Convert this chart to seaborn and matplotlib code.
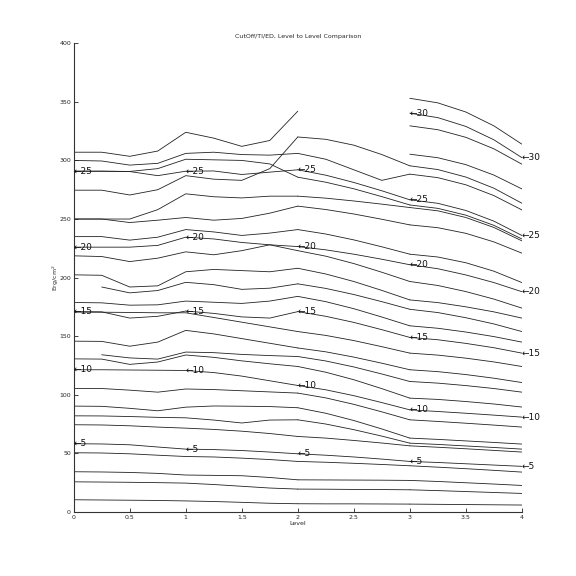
import numpy as np
import pandas as pd
import matplotlib
matplotlib.use("Agg")
import matplotlib.pyplot as plt
import seaborn as sns

nan = np.nan

# level positions for the three pieces of the plot
levels_a = [0, 0.25, 0.5, 0.75, 1.0, 1.25, 1.5, 1.75, 2.0]
levels_b = [2.0, 2.25, 2.5, 2.75, 3.0]
levels_c = [3.0, 3.25, 3.5, 3.75, 4.0]

# flux values (Erg/cm^2), one row per curve
flux_a = [
    [10.5, 10.3, 10.1, 9.9, 9.5, 9.0, 8.3, 7.5, 7.1],
    [25.8, 25.6, 25.4, 25.1, 24.7, 23.5, 22.0, 20.5, 19.6],
    [34.4, 34.2, 33.8, 33.0, 31.6, 31.3, 31.0, 29.5, 27.5],
    [50.6, 50.4, 49.7, 48.5, 47.4, 47.0, 46.0, 44.8, 43.2],
    [58.3, 58.1, 57.4, 55.5, 53.7, 53.3, 52.5, 51.2, 49.7],
    [74.5, 74.3, 73.6, 72.5, 71.6, 70.5, 69.0, 67.0, 64.5],
    [82.1, 82.0, 81.5, 80.8, 80.4, 78.5, 76.0, 78.5, 78.7],
    [90.4, 90.2, 88.5, 86.4, 89.5, 90.5, 90.3, 90.0, 89.0],
    [105.4, 105.4, 104.0, 102.3, 105.0, 104.5, 103.5, 102.5, 101.5],
    [121.4, 121.4, 121.2, 121.0, 120.8, 119.0, 116.0, 112.0, 108.0],
    [130.7, 130.5, 126.0, 128.0, 134.0, 132.0, 129.0, 126.5, 124.2],
    [nan, 134.2, 131.5, 130.5, 136.5, 136.0, 134.5, 133.5, 132.7],
    [145.8, 145.6, 141.5, 145.0, 155.0, 152.0, 148.0, 144.0, 140.0],
    [170.6, 170.5, 170.3, 170.0, 170.0, 166.0, 162.0, 158.0, 154.0],
    [171.0, 170.8, 165.5, 167.0, 171.5, 169.5, 166.5, 165.5, 171.0],
    [178.8, 178.5, 176.5, 176.8, 180.0, 179.0, 178.0, 180.0, 184.0],
    [nan, 192.0, 187.0, 189.0, 196.0, 194.0, 190.0, 191.0, 194.7],
    [202.4, 202.0, 192.0, 193.0, 205.0, 207.0, 206.0, 205.0, 208.0],
    [218.6, 218.0, 213.7, 216.6, 222.0, 219.5, 223.0, 228.0, 223.0],
    [226.0, 226.0, 226.0, 227.5, 234.5, 233.0, 230.0, 228.0, 226.5],
    [235.0, 235.0, 232.0, 234.5, 241.0, 239.0, 236.0, 238.0, 241.0],
    [250.0, 250.0, 247.0, 249.0, 251.3, 249.0, 250.5, 255.0, 261.0],
    [250.0, 250.0, 250.0, 258.0, 271.5, 269.0, 268.0, 269.5, 269.5],
    [274.6, 274.6, 270.5, 275.0, 287.0, 284.0, 283.0, 293.0, 320.0],
    [290.8, 290.8, 290.6, 293.0, 301.0, 300.5, 300.0, 297.0, 285.7],
    [290.8, 290.8, 290.5, 287.0, 290.8, 291.0, 288.0, 290.0, 292.0],
    [300.0, 299.5, 296.0, 297.5, 306.0, 307.0, 305.0, 304.5, 306.0],
    [307.0, 307.0, 303.5, 308.0, 324.0, 319.0, 312.0, 317.0, 342.0],
]

flux_b = [
    [7.1, 7.0, 7.0, 6.9, 6.8],
    [19.6, 19.5, 19.3, 19.2, 19.0],
    [27.5, 27.4, 27.3, 27.2, 27.0],
    [43.2, 42.5, 41.6, 40.6, 39.5],
    [49.7, 48.5, 47.0, 45.2, 43.2],
    [64.5, 63.1, 61.1, 58.9, 56.5],
    [78.7, 75.1, 70.3, 64.8, 58.8],
    [89.0, 84.3, 78.1, 70.9, 63.1],
    [101.5, 97.4, 91.9, 85.5, 78.7],
    [108.0, 104.3, 99.3, 93.4, 87.2],
    [124.2, 119.3, 112.9, 105.3, 97.2],
    [132.7, 128.9, 123.8, 117.8, 111.4],
    [140.0, 136.7, 132.2, 127.0, 121.4],
    [154.0, 150.7, 146.3, 141.1, 135.6],
    [171.0, 167.0, 161.8, 155.6, 149.0],
    [184.0, 179.5, 173.5, 166.4, 158.9],
    [194.7, 190.8, 185.6, 179.5, 173.0],
    [208.0, 203.1, 196.7, 189.1, 181.0],
    [223.0, 218.3, 212.0, 204.6, 196.7],
    [226.5, 223.7, 220.0, 215.7, 211.0],
    [241.0, 237.2, 232.2, 226.3, 220.0],
    [261.0, 258.1, 254.3, 249.8, 245.0],
    [269.5, 267.8, 265.4, 262.7, 259.8],
    [285.7, 281.4, 275.8, 269.1, 262.0],
    [292.0, 287.4, 281.2, 274.1, 266.4],
    [306.0, 301.0, 292.0, 283.0, 288.3],
    [320.0, 318.0, 313.0, 305.0, 295.4],
]

flux_c = [
    [6.8, 6.6, 6.4, 6.2, 6.0],
    [19.0, 18.3, 17.5, 16.7, 15.9],
    [27.0, 26.1, 25.0, 23.9, 22.7],
    [39.5, 38.3, 37.0, 35.6, 34.1],
    [43.2, 42.3, 41.2, 40.1, 39.0],
    [56.5, 55.3, 54.0, 52.6, 51.2],
    [58.8, 57.7, 56.4, 55.1, 53.7],
    [63.1, 62.0, 60.7, 59.4, 58.0],
    [78.7, 77.3, 75.8, 74.2, 72.5],
    [87.2, 85.8, 84.3, 82.7, 81.0],
    [97.2, 96.1, 94.3, 92.2, 89.6],
    [111.4, 110.0, 107.9, 105.4, 102.3],
    [121.4, 119.8, 117.3, 114.2, 110.5],
    [135.6, 133.9, 131.3, 128.1, 124.2],
    [149.0, 147.0, 143.9, 140.2, 135.6],
    [158.9, 156.8, 153.6, 149.7, 145.0],
    [173.0, 170.2, 165.8, 160.5, 154.0],
    [181.0, 178.7, 175.1, 170.8, 165.5],
    [196.7, 193.3, 188.1, 181.7, 174.0],
    [211.0, 207.6, 202.3, 195.8, 188.0],
    [220.0, 217.6, 212.7, 205.5, 195.8],
    [245.0, 242.6, 237.8, 230.5, 220.9],
    [259.8, 257.0, 251.3, 242.8, 231.4],
    [262.0, 259.1, 253.3, 244.6, 233.0],
    [266.4, 263.4, 257.3, 248.2, 236.0],
    [288.3, 285.3, 279.2, 270.0, 257.8],
    [295.4, 292.2, 285.8, 276.3, 263.5],
    [305.3, 302.3, 296.4, 287.5, 275.7],
    [329.5, 326.2, 319.7, 309.9, 296.8],
    [340.3, 336.5, 329.0, 317.6, 302.4],
    [353.0, 349.1, 341.3, 329.5, 313.9],
]

# which curves carry the "<-N" markers
label_numbers = [5, 10, 15, 20, 25, 30]
label_rows_a = [4, 9, 14, 19, 25]
label_rows_b = [4, 9, 14, 19, 24]
label_rows_c = [4, 9, 14, 19, 24, 29]


def to_long(levels, rows, piece):
    frames = []
    for i, row in enumerate(rows):
        frames.append(pd.DataFrame({"Level": levels, "Flux": row, "curve": f"{piece}{i}"}))
    return pd.concat(frames).dropna()


df = pd.concat([
    to_long(levels_a, flux_a, "a"),
    to_long(levels_b, flux_b, "b"),
    to_long(levels_c, flux_c, "c"),
])

sns.set_style("ticks")
plt.rcParams["font.family"] = ["DejaVu Sans"]

fig = plt.figure(figsize=(5.76, 5.76), dpi=100)
ax = fig.add_axes([0.128, 0.111, 0.778, 0.814])

sns.lineplot(data=df, x="Level", y="Flux", units="curve", estimator=None,
             color="#222222", linewidth=0.6, legend=False, ax=ax)


def put_labels(x, rows, idx, col):
    for n, r in zip(label_numbers, idx):
        ax.text(x, rows[r][col], "\u2190" + str(n), fontsize=6.5, color="#111111",
                ha="left", va="center", clip_on=False)


put_labels(levels_a[0], flux_a, label_rows_a, 0)
put_labels(levels_a[4], flux_a, label_rows_a, 4)
put_labels(levels_b[0], flux_b, label_rows_b, 0)
put_labels(levels_c[0], flux_c, label_rows_c, 0)
put_labels(levels_c[-1], flux_c, label_rows_c, -1)

ax.set_xlim(0, 4)
ax.set_ylim(0, 400)
ax.set_xticks([0, 0.5, 1, 1.5, 2, 2.5, 3, 3.5, 4])
ax.set_xticklabels(["0", "0.5", "1", "1.5", "2", "2.5", "3", "3.5", "4"])
ax.set_yticks(np.arange(0, 401, 50))
ax.tick_params(direction="in", length=3, width=0.6, labelsize=4.5, pad=2)
sns.despine(ax=ax)
for s in ["left", "bottom"]:
    ax.spines[s].set_linewidth(0.8)
    ax.spines[s].set_color("#333333")

ax.set_xlabel("Level", fontsize=4.5, labelpad=1)
ax.set_ylabel("Erg/cm$^2$", fontsize=4.5, labelpad=-1)
ax.set_title("CutOff/TI/ED, Level to Level Comparison", fontsize=4.5, pad=4)

fig.savefig("out.png", dpi=100)
